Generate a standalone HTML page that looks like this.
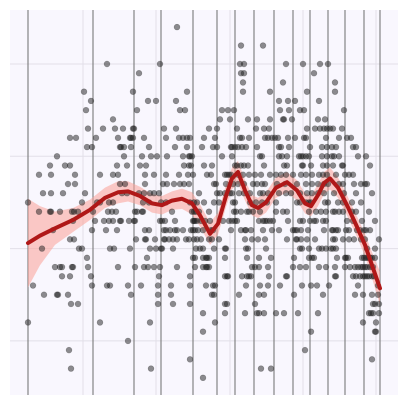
<!DOCTYPE html>
<html><head><meta charset="utf-8"><style>
html,body{margin:0;padding:0;background:#fff;}
svg{display:block;}
</style></head><body>
<svg id="chart" width="407" height="405" viewBox="0 0 407 405" xmlns="http://www.w3.org/2000/svg">
<rect x="10" y="10" width="388" height="385" fill="#f9f7fe"/>
<g id="grid"></g><g id="knots"></g><g id="band"></g><g id="pts"></g><g id="fit"></g>
</svg>
<script>
const levels = [44,42,40,39,38,37,36,35,34,33,32,31,30,29,28,27,26,25,24,23,22,21,20,19,18,17,16,15,14,13,12,11,10,9,8,7,6];
const rowX = [
[177],
[241,263],
[107,160,240,244,286,303,320,328],
[139,241,244,314],
[243,283,335],
[84,133,187,243,270,307,335],
[91,148,156,176,279,288,295,319],
[86,137,180,185,222,228,234,280,289,300,304,344],
[113,220,230,248,257,270,283,284,292,318,325],
[88,103,115,123,133,134,164,176,209,217,237,256,264,269,307,315,320,324,327,330,333,342],
[70,76,96,118,130,131,133,144,166,179,183,187,190,204,215,240,242,249,265,268,272,275,278,288,295,304,306,326,339,347,351],
[87,92,120,121,124,131,149,175,187,202,213,217,231,232,235,238,242,246,257,279,281,289,310,322,327,332,336,353,356],
[57,124,142,151,157,167,183,189,190,192,222,232,260,262,279,282,287,299,301,303,306,309,322,327,332,334,339,358,366],
[50,65,70,117,127,140,146,184,189,191,204,212,235,237,241,244,248,264,284,287,302,303,311,323,327,333,342,343,370],
[39,51,75,100,113,118,145,154,166,179,188,193,207,211,225,227,229,231,238,243,249,255,261,270,276,281,286,293,301,306,312,319,323,327,336,345,349,353],
[68,75,120,125,145,163,167,174,180,184,189,214,216,226,233,238,244,253,257,262,265,277,285,297,306,312,318,324,328,339,343,354,361,365,367],
[43,51,63,85,122,127,139,144,150,154,159,199,217,220,225,230,232,239,244,250,260,263,268,279,286,291,300,307,312,318,324,334,344,356,372],
[28,82,97,100,109,113,143,149,161,166,190,194,197,204,214,219,233,235,250,256,262,267,276,297,300,306,309,311,325,328,338,343,352,361],
[39,50,51,60,72,74,78,93,108,112,116,135,137,142,143,172,192,194,196,199,209,234,236,241,247,249,253,260,276,283,287,309,316,321,326,333,335,339,343,352,356,369],
[73,95,104,109,113,120,121,129,134,135,160,162,165,175,193,194,195,197,201,205,210,223,229,232,235,237,259,263,265,267,270,273,288,300,303,310,314,316,323,326,347,353,362,375],
[53,92,106,117,145,149,164,166,170,175,177,183,191,193,195,198,203,211,213,231,241,245,246,251,263,272,279,293,295,297,301,308,324,332,333,336,338,346,349,357,360,364,366,370],
[70,74,136,145,146,155,164,165,169,173,177,186,189,194,197,201,209,212,219,245,252,258,265,287,296,297,301,307,315,333,335,343,349,354,361,365,379],
[42,79,82,110,114,130,150,156,161,162,173,196,200,203,214,225,226,246,248,266,300,302,309,319,322,326,331,333,336,367,375],
[87,147,193,195,203,206,207,209,225,247,259,271,294,309,312,314,337,345,346,348,362,364,366,368,370,372,375],
[55,60,62,72,73,88,118,135,144,148,154,160,177,195,203,206,207,209,252,255,259,268,293,300,306,319,326,335,345,350,355,358,361,363,365,367,370,373],
[62,70,91,159,190,225,227,228,242,247,249,251,269,286,287,335,336,353,356,360,363,365,367,369,372,374],
[33,92,107,110,128,141,158,171,190,206,213,215,246,260,268,280,302,311,317,329,358,378],
[44,57,58,68,131,158,171,212,214,239,259,264,294,323,355,363,372,378],
[71,78,158,173,190,225,227,255,373,375,379],
[203,225,245,257,259,264,276,284,298,318,369,371,373,379],
[28,100,150,215,363,376],
[203,311,375,376],
[128],
[69,305],
[190,372],
[71,151,261,271],
[203]
];
const fitX  = [28,40,55,73,90,105,118,128,140,152,162,172,182,192,200,210,218,226,232,238,245,252,258,266,276,287,297,305,311,318,324,330,338,347,356,365,372,380];
const fitY  = [20.6,21.4,22.2,23.1,24.2,25.5,26.1,26.2,25.7,24.9,24.7,25.2,25.4,24.9,23.6,21.6,22.7,25.7,27.6,28.3,26.3,24.7,24.4,25.0,26.6,27.2,26.3,24.9,24.6,25.8,27.1,27.6,26.6,24.7,22.6,20.4,18.2,15.7];
const fitSE = [4.8,3.2,1.8,1.3,1.1,1.1,1.2,1.1,1.0,1.0,1.0,1.0,1.1,1.2,1.2,1.2,1.2,1.2,1.2,1.2,1.1,1.1,1.1,1.1,1.1,1.1,1.1,1.1,1.1,1.2,1.2,1.2,1.1,1.1,1.1,1.2,1.4,1.8];
const knotX = [28,93,134,161,193,217,235,254,274,293,310,328,345,364,380];
const yGrid = [10,20,30,40];
const xGrid = [83,156,230,303,376];

const NS='http://www.w3.org/2000/svg';
function xs(v){return 10+(v-10)*(388/388);}
function ys(v){return 64+(40-v)*9.23;}
function mk(t,a,p){const e=document.createElementNS(NS,t);for(const k in a)e.setAttribute(k,a[k]);p.appendChild(e);return e;}
const grid=document.getElementById('grid');
yGrid.forEach(v=>{const l=mk('line',{x1:10,x2:398,y1:ys(v),y2:ys(v),stroke:'#e2dfe8','stroke-width':1},grid);

});
xGrid.forEach(v=>{const l=mk('line',{x1:xs(v),x2:xs(v),y1:10,y2:395,stroke:'#e2dfe8','stroke-width':1},grid);

});
const kn=document.getElementById('knots');
knotX.forEach(v=>{const l=mk('line',{x1:xs(v),x2:xs(v),y1:10,y2:395,stroke:'#7a7a7a','stroke-width':1.1},kn);

});
const pts=document.getElementById('pts');
levels.forEach((lv,i)=>{rowX[i].forEach(x=>{const c=mk('circle',{cx:xs(x),cy:ys(lv),r:2.9,fill:'rgba(30,30,30,0.5)',stroke:'rgba(30,30,30,0.35)','stroke-width':0.6},pts);

});});
let up='',dn='',ln='';
fitX.forEach((x,i)=>{up+=(i?'L':'M')+xs(x)+','+ys(fitY[i]+fitSE[i]);ln+=(i?'L':'M')+xs(x)+','+ys(fitY[i]);});
for(let i=fitX.length-1;i>=0;i--)dn+='L'+xs(fitX[i])+','+ys(fitY[i]-fitSE[i]);
const b=mk('path',{d:up+dn+'Z',fill:'rgba(252,160,150,0.55)',stroke:'none'},document.getElementById('band'));


const f=mk('path',{d:ln,fill:'none',stroke:'#b01818','stroke-width':4,'stroke-linejoin':'round','stroke-linecap':'round'},document.getElementById('fit'));


</script>
</body></html>
